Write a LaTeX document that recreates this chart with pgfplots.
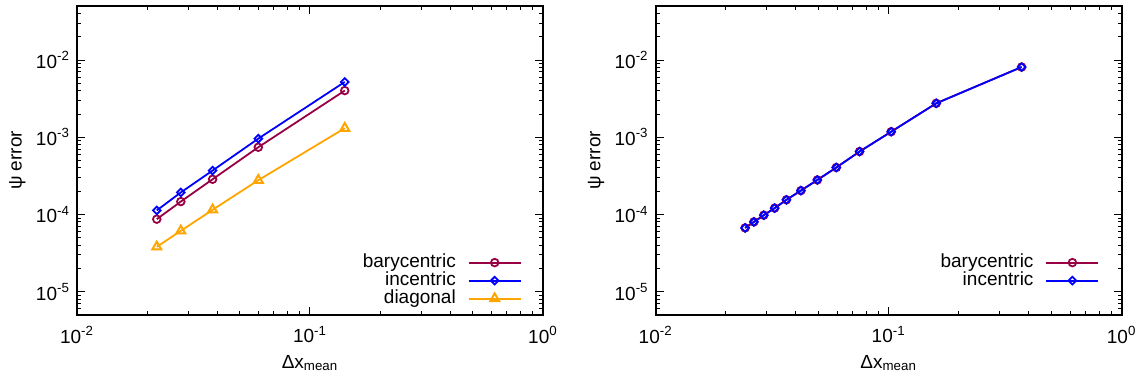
\documentclass[border=0pt]{standalone}
\usepackage{fontspec}
\setmainfont{Liberation Sans}
\usepackage{pgfplots}
\usepackage{pgfplotstable}
\pgfplotsset{compat=1.18}
\definecolor{bary}{RGB}{153,0,68}
\definecolor{inc}{RGB}{0,0,255}
\definecolor{diag}{RGB}{255,165,0}

\pgfplotstableread{
x y
0.0220 8.7e-5
0.0279 1.47e-4
0.0382 2.86e-4
0.0600 7.43e-4
0.1410 4.02e-3
}\LeftBary
\pgfplotstableread{
x y
0.0220 1.13e-4
0.0279 1.93e-4
0.0382 3.71e-4
0.0600 9.6e-4
0.1410 5.2e-3
}\LeftInc
\pgfplotstableread{
x y
0.0220 3.81e-5
0.0279 6.14e-5
0.0382 1.15e-4
0.0600 2.78e-4
0.1410 1.31e-3
}\LeftDiag
\pgfplotstableread{
x y
0.0242 6.71e-5
0.0264 8.02e-5
0.0291 9.8e-5
0.0324 1.21e-4
0.0364 1.55e-4
0.0420 2.04e-4
0.0494 2.80e-4
0.0596 4.06e-4
0.0750 6.53e-4
0.1025 1.18e-3
0.1600 2.75e-3
0.3720 8.11e-3
}\RightData

\pgfplotsset{
  legend image code/.code={\draw[mark repeat=2,mark phase=2,#1] plot coordinates {(0pt,0pt) (13pt,0pt) (26pt,0pt)};},
  barys/.style={color=bary, line width=0.9pt, mark=o, mark size=1.9pt, mark options={solid, line width=0.9pt}},
  incs/.style={color=inc, line width=0.9pt, mark=square, mark size=1.35pt, mark options={solid, rotate=45, line width=0.9pt}},
  diags/.style={color=diag, line width=0.9pt, mark=triangle, mark size=2.6pt, mark options={solid, line width=1pt}},
}

\begin{document}
\begin{tikzpicture}
\begin{axis}[at={(38.5pt,33pt)}, anchor=south west,
    xmode=log, ymode=log, scale only axis,
    width=233pt, height=154.5pt,
    xmin=0.01, xmax=1, ymin=5e-6, ymax=5e-2,
    xtick={0.01,0.1,1},
    xticklabels={10\textsuperscript{-2},10\textsuperscript{-1},10\textsuperscript{0}},
    ytick={1e-5,1e-4,1e-3,1e-2},
    yticklabels={10\textsuperscript{-5},10\textsuperscript{-4},10\textsuperscript{-3},10\textsuperscript{-2}},
    minor xtick={0.02,0.03,0.04,0.05,0.06,0.07,0.08,0.09,0.2,0.3,0.4,0.5,0.6,0.7,0.8,0.9},
    minor ytick={6e-6,7e-6,8e-6,9e-6,2e-5,3e-5,4e-5,5e-5,6e-5,7e-5,8e-5,9e-5,2e-4,3e-4,4e-4,5e-4,6e-4,7e-4,8e-4,9e-4,2e-3,3e-3,4e-3,5e-3,6e-3,7e-3,8e-3,9e-3,2e-2,3e-2,4e-2},
    tick pos=both, tick align=inside,
    major tick length=4pt, minor tick length=2pt,
    every tick/.style={black, line width=0.5pt},
    axis line style={line width=0.9pt},
    tick label style={font=\fontsize{9.5}{11}\selectfont},
    xticklabel style={yshift=-2pt},
    label style={font=\fontsize{9.5}{11}\selectfont},
    xlabel={Δx\textsubscript{mean}},
    ylabel={ψ error},
    xlabel style={at={(axis description cs:0.5,-0.172)}, anchor=base},
    ylabel style={at={(axis description cs:-0.128,0.5)}, anchor=center},
    legend plot pos=right,
    legend cell align=right,
    legend style={draw=none, fill=none, inner sep=0pt, column sep=6pt, row sep=0pt,
      font=\fontsize{9.5}{11}\selectfont,
      nodes={inner sep=0pt, text height=6.8pt, text depth=2.2pt},
      at={(axis description cs:1,0)}, anchor=south east, xshift=-10.5pt, yshift=3.5pt},
  ]
\addplot[barys] table[x=x,y=y] {\LeftBary};
\addlegendentry{barycentric}
\addplot[incs] table[x=x,y=y] {\LeftInc};
\addlegendentry{incentric}
\addplot[diags] table[x=x,y=y] {\LeftDiag};
\addlegendentry{diagonal}
\end{axis}
\begin{axis}[at={(327.85pt,33pt)}, anchor=south west,
    xmode=log, ymode=log, scale only axis,
    width=233pt, height=154.5pt,
    xmin=0.01, xmax=1, ymin=5e-6, ymax=5e-2,
    xtick={0.01,0.1,1},
    xticklabels={10\textsuperscript{-2},10\textsuperscript{-1},10\textsuperscript{0}},
    ytick={1e-5,1e-4,1e-3,1e-2},
    yticklabels={10\textsuperscript{-5},10\textsuperscript{-4},10\textsuperscript{-3},10\textsuperscript{-2}},
    minor xtick={0.02,0.03,0.04,0.05,0.06,0.07,0.08,0.09,0.2,0.3,0.4,0.5,0.6,0.7,0.8,0.9},
    minor ytick={6e-6,7e-6,8e-6,9e-6,2e-5,3e-5,4e-5,5e-5,6e-5,7e-5,8e-5,9e-5,2e-4,3e-4,4e-4,5e-4,6e-4,7e-4,8e-4,9e-4,2e-3,3e-3,4e-3,5e-3,6e-3,7e-3,8e-3,9e-3,2e-2,3e-2,4e-2},
    tick pos=both, tick align=inside,
    major tick length=4pt, minor tick length=2pt,
    every tick/.style={black, line width=0.5pt},
    axis line style={line width=0.9pt},
    tick label style={font=\fontsize{9.5}{11}\selectfont},
    xticklabel style={yshift=-2pt},
    label style={font=\fontsize{9.5}{11}\selectfont},
    xlabel={Δx\textsubscript{mean}},
    ylabel={ψ error},
    xlabel style={at={(axis description cs:0.5,-0.172)}, anchor=base},
    ylabel style={at={(axis description cs:-0.128,0.5)}, anchor=center},
    legend plot pos=right,
    legend cell align=right,
    legend style={draw=none, fill=none, inner sep=0pt, column sep=6pt, row sep=0pt,
      font=\fontsize{9.5}{11}\selectfont,
      nodes={inner sep=0pt, text height=6.8pt, text depth=2.2pt},
      at={(axis description cs:1,0)}, anchor=south east, xshift=-11pt, yshift=12.5pt},
  ]
\addplot[barys] table[x=x,y=y] {\RightData};
\addlegendentry{barycentric}
\addplot[incs] table[x=x,y=y] {\RightData};
\addlegendentry{incentric}
\end{axis}
\pgfresetboundingbox
\path[use as bounding box] (0,0) rectangle (570.5pt,190.5pt);
\end{tikzpicture}
\end{document}
